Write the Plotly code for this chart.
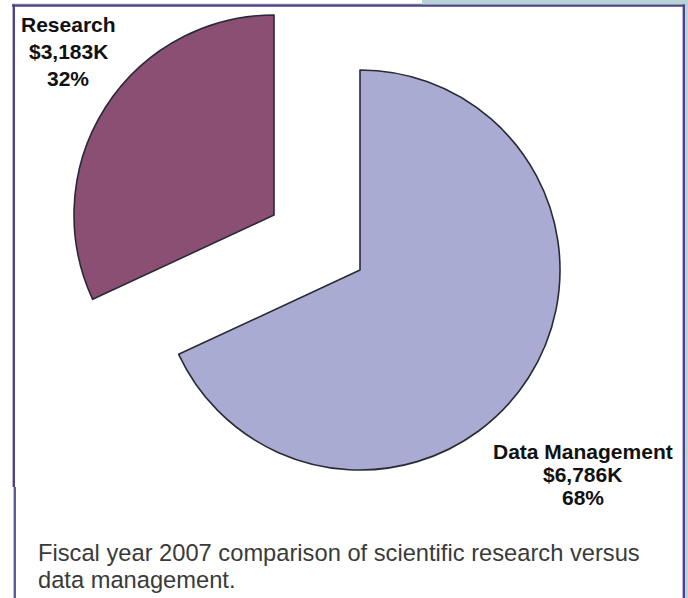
import plotly.graph_objects as go

W, H = 688, 598

# Fiscal year 2007 funding, thousands of dollars
categories = ["Research", "Data Management"]
funding_k = [3183, 6786]
slice_colors = ["#8b4f73", "#a9abd3"]
caption_lines = [
    "Fiscal year 2007 comparison of scientific research versus",
    "data management.",
]

total = sum(funding_k)
pct = [round(100 * v / total) for v in funding_k]
label_lines = [[c, f"${v:,}K", f"{p}%"] for c, v, p in zip(categories, funding_k, pct)]


def fx(x):
    return x / W


def fy(y):
    return 1 - y / H


# Each slice gets its own pie trace (other slice transparent) so the two
# wedges can be pushed apart independently inside the frame.
# Slices are fed in reverse so Research sits counter-clockwise of 12 o'clock.
R = 200
centers = [(274, 215), (360, 270)]

fig = go.Figure()
for i, (cx, cy) in enumerate(centers):
    fills = ["rgba(0,0,0,0)"] * len(categories)
    fills[i] = slice_colors[i]
    widths = [0] * len(categories)
    widths[i] = 1.6
    fig.add_trace(go.Pie(
        labels=categories[::-1],
        values=funding_k[::-1],
        sort=False,
        direction="clockwise",
        rotation=0,
        marker=dict(colors=fills[::-1], line=dict(color="#2a2a36", width=widths[::-1])),
        textinfo="none",
        hoverinfo="label+value+percent",
        showlegend=False,
        domain=dict(x=[fx(cx - R), fx(cx + R)], y=[fy(cy + R), fy(cy - R)]),
    ))

font_family = "Liberation Sans, Arial, sans-serif"

# slice labels: name, amount, share
label_pos = [(68, [25, 51.5, 78]), (582.5, [451, 474, 497])]
for lines, (lx, ys) in zip(label_lines, label_pos):
    for txt, ly in zip(lines, ys):
        fig.add_annotation(
            x=fx(lx), y=fy(ly), xref="paper", yref="paper",
            text=f"<b>{txt}</b>", showarrow=False,
            xanchor="center", yanchor="middle",
            font=dict(family=font_family, size=21, color="#111111"),
        )

# caption
for txt, ly in zip(caption_lines, [553, 580]):
    fig.add_annotation(
        x=fx(36), y=fy(ly), xref="paper", yref="paper",
        text=txt, showarrow=False, xanchor="left", yanchor="middle",
        font=dict(family=font_family, size=23.7, color="#3a3a3a"),
    )

frame = "#4b4585"
strip = "#b9d3d6"
shapes = [
    # pale strip outside the frame
    dict(x0=422, x1=688, y0=0, y1=4.6, color=strip),
    dict(x0=685, x1=688, y0=0, y1=598, color=strip),
    # frame lines
    dict(x0=12, x1=422, y0=3.8, y1=4.7, color="#8a8aa8"),
    dict(x0=12, x1=685, y0=4.6, y1=6.8, color=frame),
    dict(x0=12.6, x1=15, y0=4.6, y1=487, color=frame),
    dict(x0=13.6, x1=16, y0=487, y1=598, color="#5c5b9a"),
    dict(x0=682.6, x1=685, y0=4.6, y1=598, color=frame),
]
for s in shapes:
    fig.add_shape(
        type="rect", xref="paper", yref="paper",
        x0=fx(s["x0"]), x1=fx(s["x1"]), y0=fy(s["y1"]), y1=fy(s["y0"]),
        line=dict(width=0), fillcolor=s["color"], layer="above",
    )

fig.update_layout(
    width=W, height=H, autosize=False,
    margin=dict(l=0, r=0, t=0, b=0),
    paper_bgcolor="white", plot_bgcolor="white",
)

fig.write_html("out.html")
